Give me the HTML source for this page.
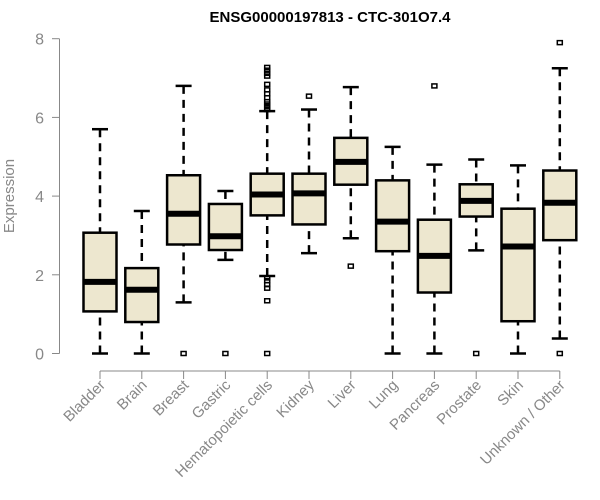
<!DOCTYPE html>
<html><head><meta charset="utf-8"><style>
body{margin:0;background:#fff}
svg{display:block;font-family:"Liberation Sans",sans-serif}
</style></head><body>
<svg id="c" width="600" height="500" viewBox="0 0 600 500">
<text x="330" y="22" text-anchor="middle" font-weight="bold" font-size="15">ENSG00000197813 - CTC-301O7.4</text>
<text transform="translate(14,196) rotate(-90)" text-anchor="middle" font-size="15" fill="#888">Expression</text>
<g id="axes"></g><g id="boxes"></g>
</svg>
<script>
const categories=["Bladder","Brain","Breast","Gastric","Hematopoietic cells","Kidney","Liver","Lung","Pancreas","Prostate","Skin","Unknown / Other"];
const whiskerLow=[0,0,1.3,2.38,1.97,2.55,2.93,0,0,2.62,0,0.38];
const q1=[1.07,0.8,2.77,2.63,3.51,3.28,4.29,2.6,1.55,3.48,0.82,2.88];
const medians=[1.82,1.62,3.55,2.98,4.04,4.07,4.87,3.35,2.48,3.88,2.72,3.83];
const q3=[3.07,2.17,4.53,3.8,4.57,4.57,5.48,4.4,3.4,4.3,3.68,4.65];
const whiskerHigh=[5.7,3.62,6.8,4.13,6.16,6.2,6.77,5.25,4.8,4.93,4.78,7.25];
const outliers=[[],[],[0],[0],[0,1.34,1.66,1.75,1.85,1.92,6.2,6.27,6.34,6.4,6.5,6.6,6.7,6.84,7.05,7.12,7.2,7.27],[6.54],[2.22],[],[6.8],[0],[],[0,7.9]];
const yTicks=[0,2,4,6,8];
const NS="http://www.w3.org/2000/svg";
const y=v=>353.5-v*39.35;
const x=i=>100+i*41.8;
function mk(t,a,p){const e=document.createElementNS(NS,t);for(const k in a)e.setAttribute(k,a[k]);p.appendChild(e);return e;}
const ax=document.getElementById('axes'),bx=document.getElementById('boxes');
const yl=mk('line',{x1:59.5,x2:59.5,y1:y(0),y2:y(8),stroke:'#888'},ax);


yTicks.forEach(v=>{
 const t=mk('line',{x1:52,x2:59.5,y1:y(v),y2:y(v),stroke:'#888'},ax);
 
 
 const l=mk('text',{x:44,y:y(v)+6,'text-anchor':'end','font-size':16,fill:'#888'},ax);
 l.textContent=v;
 
 
});
const xl=mk('line',{x1:x(0),x2:x(categories.length-1),y1:371,y2:371,stroke:'#888'},ax);


categories.forEach((c,i)=>{
 const cx=x(i);
 const t=mk('line',{x1:cx,x2:cx,y1:371,y2:379,stroke:'#888'},ax);
 
 
 const l=mk('text',{transform:`translate(${cx+6},${386}) rotate(-45)`,'text-anchor':'end','font-size':15,fill:'#888'},ax);
 l.textContent=c;
 
 
 const g=mk('g',{},bx);
 
 
 mk('line',{x1:cx,x2:cx,y1:y(whiskerLow[i]),y2:y(q1[i]),stroke:'#000','stroke-width':2.5,'stroke-dasharray':'8,6'},g);
 mk('line',{x1:cx,x2:cx,y1:y(whiskerHigh[i]),y2:y(q3[i]),stroke:'#000','stroke-width':2.5,'stroke-dasharray':'8,6'},g);
 mk('line',{x1:cx-8,x2:cx+8,y1:y(whiskerLow[i]),y2:y(whiskerLow[i]),stroke:'#000','stroke-width':2.5},g);
 mk('line',{x1:cx-8,x2:cx+8,y1:y(whiskerHigh[i]),y2:y(whiskerHigh[i]),stroke:'#000','stroke-width':2.5},g);
 mk('rect',{x:cx-16.5,y:y(q3[i]),width:33,height:y(q1[i])-y(q3[i]),fill:'#ede7cf',stroke:'#000','stroke-width':2.5},g);
 mk('line',{x1:cx-16.5,x2:cx+16.5,y1:y(medians[i]),y2:y(medians[i]),stroke:'#000','stroke-width':6},g);
 outliers[i].forEach(o=>{mk('rect',{x:cx-2.5,y:y(o)-2,width:5,height:4,fill:'none',stroke:'#000','stroke-width':1.5},g);});
});
</script>
</body></html>
